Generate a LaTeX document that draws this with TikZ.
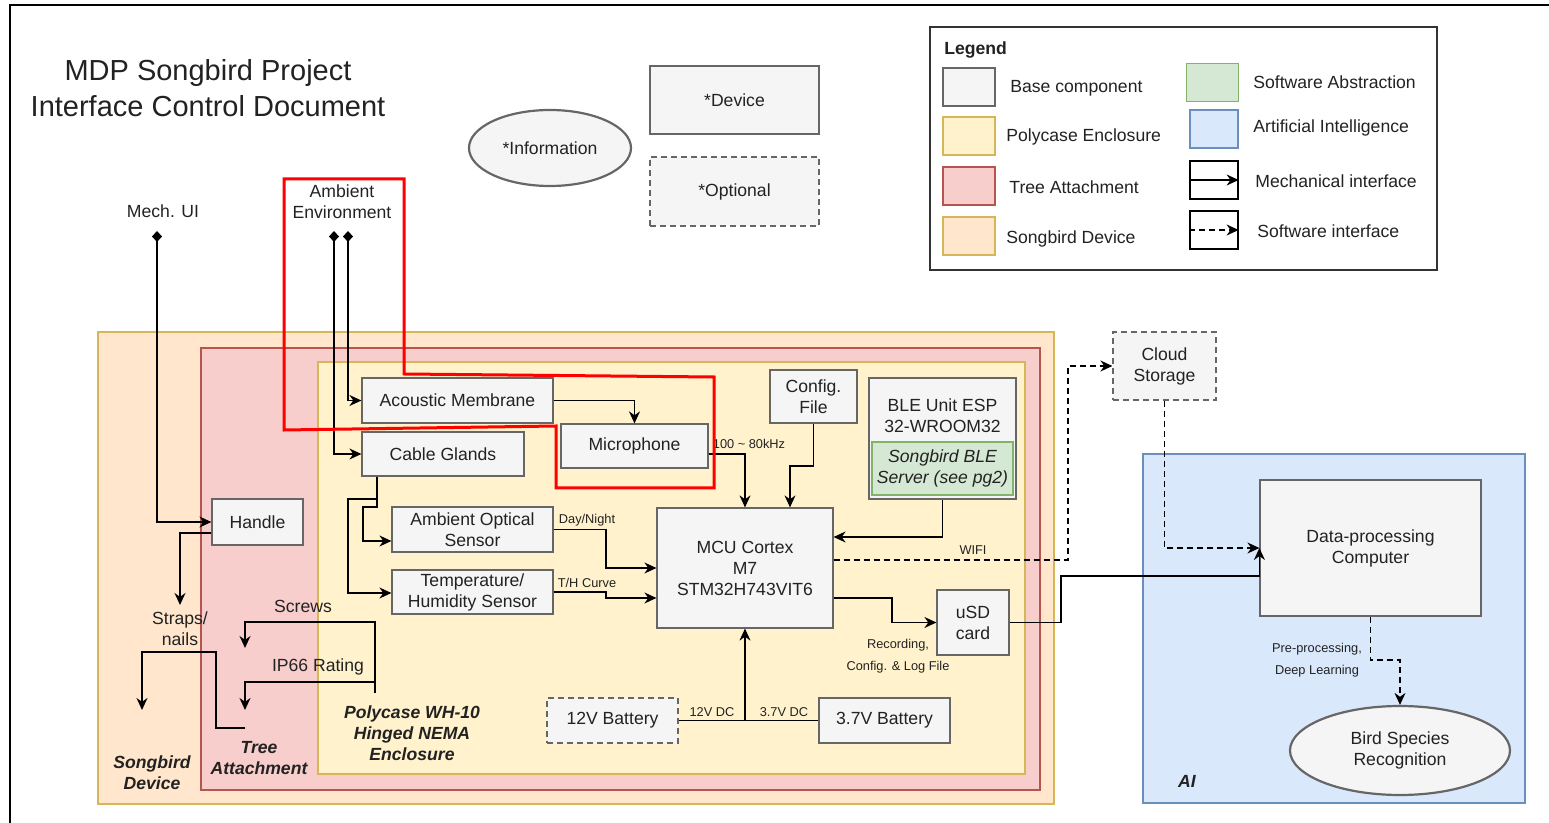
\documentclass[tikz,border=0pt]{standalone}
\usepackage{fontspec}
\setmainfont{Liberation Sans}
\usepackage{xcolor}
\usetikzlibrary{arrows.meta, shapes.geometric}

\definecolor{txtcol}{HTML}{222222}
\definecolor{basefill}{HTML}{F5F5F5}
\definecolor{baseline}{HTML}{666666}
\definecolor{pcfill}{HTML}{FFF2CC}
\definecolor{pcline}{HTML}{D6B656}
\definecolor{tafill}{HTML}{F8CECC}
\definecolor{taline}{HTML}{B85450}
\definecolor{sbfill}{HTML}{FFE6CC}
\definecolor{sbline}{HTML}{D6B656}
\definecolor{swfill}{HTML}{D5E8D4}
\definecolor{swline}{HTML}{82B366}
\definecolor{aifill}{HTML}{DAE8FC}
\definecolor{ailine}{HTML}{6C8EBF}

\begin{document}
\begin{tikzpicture}[x=0.5pt, y=-0.5pt,
    every node/.style={font=\fontsize{8.8}{10.5}\selectfont, text=txtcol, align=center, inner sep=0pt},
    basebox/.style={rectangle, draw=baseline, fill=basefill, line width=0.6pt},
    optbox/.style={basebox, dash pattern=on 3pt off 2pt},
    infobox/.style={ellipse, draw=baseline, fill=basefill, line width=1.1pt},
    swbox/.style={rectangle, draw=swline, fill=swfill, line width=0.6pt},
    keybox/.style={rectangle, line width=0.6pt, minimum width=26pt, minimum height=19pt},
    lbl/.style={font=\fontsize{6.4}{11}\selectfont},
    grouptag/.style={font=\fontsize{8.8}{10.5}\selectfont\bfseries\itshape},
    wire/.style={line width=0.7pt},
    mlink/.style={wire, -{Stealth[length=6pt,width=5.5pt]}},
    slink/.style={mlink, dash pattern=on 3pt off 2pt},
    pinlink/.style={wire, {Diamond[length=5.5pt,width=5pt]}-{Stealth[length=6pt,width=5.5pt]}}]

    \useasboundingbox (0,0) rectangle (1549,823);
    \draw[line width=0.8pt] (10,823) -- (10,5) -- (1549,5);

    % Title and shape key
    \node (title) [font=\fontsize{14.5}{18}\selectfont] at (208,88) {MDP Songbird Project\\Interface Control Document};
    \node (info) [infobox, minimum width=81pt, minimum height=38pt] at (550,148) {*Information};
    \node (device) [basebox, minimum width=84.5pt, minimum height=34pt] at (734.5,100) {*Device};
    \node (optional) [optbox, minimum width=84.5pt, minimum height=34.5pt] at (734.5,191.5) {*Optional};

    % Legend
    \node (legend) [draw=black!80, fill=white, line width=0.8pt, minimum width=253.5pt, minimum height=121.5pt] at (1183.5,148.5) {};
    \node (legendtitle) [font=\fontsize{8.8}{10.5}\selectfont\bfseries, anchor=west] at (944,50) {Legend};
    \node (keybase) [keybox, draw=baseline, fill=basefill] at (969,87) {};
    \node (keypoly) [keybox, draw=pcline, fill=pcfill] at (969,136) {};
    \node (keytree) [keybox, draw=taline, fill=tafill] at (969,186) {};
    \node (keysb) [keybox, draw=sbline, fill=sbfill] at (969,236) {};
    \node (keysw) [keybox, draw=swline, fill=swfill] at (1212.5,82.5) {};
    \node (keyai) [keybox, draw=ailine, fill=aifill, minimum width=24pt] at (1214,129) {};
    \node (keymech) [keybox, draw=black, fill=white, minimum width=24pt] at (1214,180) {};
    \node (keysoft) [keybox, draw=black, fill=white, minimum width=24pt] at (1214,230) {};
    \node [anchor=west] at (1010,88) {Base component};
    \node [anchor=west] at (1006,137) {Polycase Enclosure};
    \node [anchor=west] at (1009,187) {Tree Attachment};
    \node [anchor=west] at (1006,239) {Songbird Device};
    \node [anchor=west] at (1253,82) {Software Abstraction};
    \node [anchor=west] at (1253,128) {Artificial Intelligence};
    \node [anchor=west] at (1255,181) {Mechanical interface};
    \node [anchor=west] at (1257,231) {Software interface};
    \draw[mlink] (keymech.west) -- (keymech.east);
    \draw[slink] (keysoft.west) -- (keysoft.east);

    % Nested groups
    \filldraw[fill=sbfill, draw=sbline, line width=0.8pt] (98,332) rectangle (1054,804);
    \filldraw[fill=tafill, draw=taline, line width=0.8pt] (201,348) rectangle (1040,790);
    \filldraw[fill=pcfill, draw=pcline, line width=0.8pt] (318,362) rectangle (1025,774);
    \filldraw[fill=aifill, draw=ailine, line width=0.8pt] (1143,454) rectangle (1525,803);
    \node (sbtag) [grouptag] at (152,773) {Songbird\\Device};
    \node (tatag) [grouptag] at (259,758) {Tree\\Attachment};
    \node (pctag) [grouptag] at (412,733) {Polycase WH-10\\Hinged NEMA\\Enclosure};
    \node (aitag) [grouptag] at (1187,781) {AI};

    % Outside inputs
    \node (mechui) at (163,211) {Mech. UI};
    \node (ambient) at (342,202) {Ambient\\Environment};
    \coordinate (mechpin) at (157,231);
    \coordinate (ambpinA) at (334,231);
    \coordinate (ambpinB) at (348,231);

    % Enclosure components
    \node (am) [basebox, minimum width=95.5pt, minimum height=22.5pt] at (457.5,400.5) {Acoustic Membrane};
    \node (cg) [basebox, minimum width=81pt, minimum height=22pt] at (443,454) {Cable Glands};
    \node (mic) [basebox, minimum width=73.5pt, minimum height=22pt] at (634.5,446) {Microphone};
    \node (cfg) [basebox, minimum width=43.5pt, minimum height=26.5pt] at (813.5,396.5) {Config.\\File};
    \node (ble) [basebox, minimum width=73.5pt, minimum height=60.5pt] at (942.5,438.5) {};
    \node (bletext) at (942.5,416) {BLE Unit ESP\\32-WROOM32};
    \node (bleserver) [swbox, minimum width=70.5pt, minimum height=26.5pt, font=\fontsize{8.8}{10.5}\selectfont\itshape] at (942.5,468.5) {Songbird BLE\\Server (see pg2)};
    \node (aopt) [basebox, minimum width=80.5pt, minimum height=22.5pt] at (472.5,529.5) {Ambient Optical\\Sensor};
    \node (temp) [basebox, minimum width=80.5pt, minimum height=22pt] at (472.5,592) {Temperature/\\Humidity Sensor};
    \node (mcu) [basebox, minimum width=88pt, minimum height=60pt] at (745,568) {MCU Cortex\\M7\\STM32H743VIT6};
    \node (usd) [basebox, minimum width=36pt, minimum height=32.5pt] at (973,622.5) {uSD\\card};
    \node (bat12) [optbox, minimum width=65.5pt, minimum height=22.5pt] at (612.5,720.5) {12V Battery};
    \node (bat37) [basebox, minimum width=65.5pt, minimum height=22.5pt] at (884.5,720.5) {3.7V Battery};
    \node (handle) [basebox, minimum width=45.5pt, minimum height=23pt] at (257.5,522) {Handle};

    % Cloud and AI
    \node (cloud) [optbox, minimum width=51.5pt, minimum height=34pt] at (1164.5,366) {Cloud\\Storage};
    \node (dp) [basebox, minimum width=110.5pt, minimum height=68pt] at (1370.5,548) {Data-processing\\Computer};
    \node (bird) [infobox, minimum width=110pt, minimum height=44.5pt] at (1400,750.5) {Bird Species\\Recognition};

    % Free ends
    \coordinate (strapsend) at (180,605);
    \coordinate (treepin) at (245,728);
    \coordinate (sbend) at (142,710);
    \coordinate (polypin) at (375,693);
    \coordinate (screwsend) at (245,648);
    \coordinate (ip66end) at (245,710);

    % Mechanical interfaces
    \draw[pinlink] (mechpin) |- (handle.west);
    \draw[pinlink] (ambpinB) |- (am.west);
    \draw[pinlink] (ambpinA) |- (cg.west);
    \draw[mlink] (am.east) -| (mic.north);
    \draw[mlink] (cg.south -| 377,0) |- (363,507) |- (aopt.west |- 0,541);
    \draw[mlink] (cg.south -| 377,0) |- (348,499) |- (temp.west |- 0,593);
    \draw[mlink] (handle.west |- 0,533) -| (strapsend);
    \draw[mlink] (treepin) -| (216,652) -| (sbend);
    \draw[mlink] (polypin) |- (245,622) -- (screwsend);
    \draw[mlink] (polypin) |- (245,682) -- (ip66end);

    % Signal and power
    \draw[mlink] (mic.east |- 0,454) -| (mcu.north);
    \draw[mlink] (cfg.south) |- (790,466) -- (mcu.north -| 790,0);
    \draw[mlink] (ble.south) |- (mcu.east |- 0,537);
    \draw[mlink] (aopt.east) -| (606,568) -- (mcu.west);
    \draw[mlink] (temp.east) -| (606,598) -- (mcu.west |- 0,598);
    \draw[mlink] (mcu.east |- 0,598) -| (892,622.5) -- (usd.west);
    \draw[wire] (bat12.east) -- (bat37.west);
    \draw[mlink] (mcu.south |- bat12.east) -- (mcu.south);
    \draw[mlink] (usd.east) -| (1061,576) -- (dp.west |- 0,576) -- (dp.west);

    % Software interfaces
    \draw[slink] (mcu.east |- 0,560) -| (1068,366) -- (cloud.west);
    \draw[slink] (cloud.south) |- (dp.west);
    \draw[slink] (dp.south) |- (1400,660) -- (bird.north);

    % Connector labels
    \node [lbl] at (749,444) {100 \textasciitilde{} 80kHz};
    \node [lbl] at (587,520) {Day/Night};
    \node [lbl] at (587,583) {T/H Curve};
    \node [lbl] at (973,550) {WIFI};
    \node [lbl] at (898,656) {Recording,\\Config. \& Log File};
    \node [lbl] at (712,712) {12V DC};
    \node [lbl] at (784,712) {3.7V DC};
    \node [lbl] at (1317,660) {Pre-processing,\\Deep Learning};
    \node at (180,629) {Straps/\\nails};
    \node at (303,606) {Screws};
    \node at (318,667) {IP66 Rating};

    % Highlight
    \draw[red, line width=1.5pt, line join=miter] (284,179) -- (404,179) -- (404,374) -- (714,377) -- (714,488) -- (556,488) -- (556,426) -- (284,430) -- cycle;
\end{tikzpicture}
\end{document}
